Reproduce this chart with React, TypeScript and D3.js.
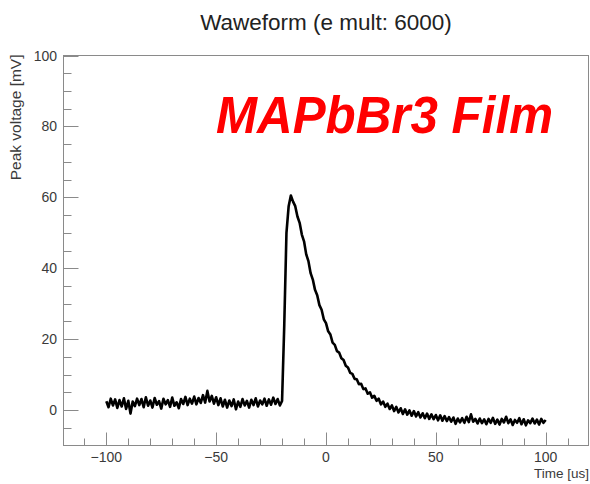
import React from "react";
import * as d3 from "d3";

// Waveform samples: one every 1 us starting at -100 us (mV)
const TIME_START = -100;
const TIME_STEP = 1;
const VOLTAGES: number[] = [
  // -100 .. -91
  2.5, 0.8, 3.2, 1.3, 3.0, 0.6, 2.8, 1.0, 3.3, 0.3,
  // -90 .. -81
  2.6, -1.0, 2.4, 1.1, 3.2, 1.4, 3.1, 0.8, 3.6, 1.2,
  // -80 .. -71
  2.7, 0.7, 3.4, 1.5, 2.5, 0.4, 3.2, 1.6, 2.8, 0.9,
  // -70 .. -61
  3.5, 1.2, 2.2, 0.5, 3.1, 1.7, 3.7, 1.4, 3.2, 1.8,
  // -60 .. -51
  3.8, 1.6, 3.4, 2.0, 4.2, 2.1, 5.4, 2.4, 4.0, 1.8,
  // -50 .. -41
  3.6, 1.4, 3.3, 1.0, 2.9, 0.7, 2.7, 1.1, 3.0, 0.2,
  // -40 .. -31
  2.4, 0.9, 3.1, 1.3, 2.6, 0.7, 2.9, 1.4, 3.3, 1.0,
  // -30 .. -21
  2.7, 1.6, 3.2, 1.2, 3.0, 1.5, 3.5, 1.7, 3.1, 1.3,
  // -20 .. -11
  2.6, 24.0, 50.0, 57.5, 60.5, 58.8, 57.5, 54.6, 52.8, 49.5,
  // -10 .. -1
  47.6, 43.9, 42.0, 38.6, 36.8, 33.9, 32.4, 29.6, 28.3, 25.6,
  // 0 .. 9
  24.5, 22.2, 21.3, 19.0, 18.4, 16.6, 16.2, 14.6, 14.1, 12.5,
  // 10 .. 19
  12.0, 10.5, 10.2, 8.8, 8.7, 7.3, 7.4, 5.9, 6.1, 4.6,
  // 20 .. 29
  5.0, 3.5, 4.0, 2.6, 3.2, 1.6, 2.4, 0.9, 1.8, 0.3,
  // 30 .. 39
  1.3, -0.3, 0.9, -0.7, 0.5, -1.1, 0.2, -1.3, -0.1, -1.6,
  // 40 .. 49
  -0.3, -1.8, -0.6, -2.1, -0.9, -2.3, -1.0, -2.5, -1.2, -2.6,
  // 50 .. 59
  -1.4, -2.9, -1.5, -3.0, -1.7, -3.1, -2.0, -3.3, -2.1, -3.9,
  // 60 .. 69
  -2.4, -3.5, -2.3, -3.6, -1.9, -3.4, -1.2, -3.3, -2.5, -3.8,
  // 70 .. 79
  -2.4, -3.7, -2.6, -4.0, -2.5, -3.6, -2.2, -3.9, -2.7, -4.1,
  // 80 .. 89
  -2.5, -3.5, -1.9, -3.7, -2.6, -4.2, -2.8, -3.6, -2.3, -4.0,
  // 90 .. 100
  -2.6, -4.3, -2.9, -3.7, -2.4, -3.8, -2.7, -4.1, -2.5, -3.6, -2.8,
];

const X_TICKS = [-100, -50, 0, 50, 100];
const X_TICK_LABELS = ["\u2212100", "\u221250", "0", "50", "100"];
const X_MINOR = [-110, -90, -80, -70, -60, -40, -30, -20, -10, 10, 20, 30, 40, 60, 70, 80, 90, 110];
const Y_TICKS = [0, 20, 40, 60, 80, 100];
const Y_TICK_LABELS = ["0", "20", "40", "60", "80", "100"];
const Y_MINOR = [-5, 5, 10, 15, 25, 30, 35, 45, 50, 55, 65, 70, 75, 85, 90, 95];

const TITLE = "Waweform (e mult: 6000)";
const X_TITLE = "Time [us]";
const Y_TITLE = "Peak voltage [mV]";
const ANNOTATION = "MAPbBr3 Film";

const X_DOMAIN: [number, number] = [-119.5, 119.5];
const Y_DOMAIN: [number, number] = [-10, 100];

export default function App() {
  const W = 590;
  const H = 484;
  const left = 63.5;
  const right = 588.5;
  const top = 55.5;
  const bottom = 445.5;

  const x = d3.scaleLinear().domain(X_DOMAIN).range([left, right]);
  const y = d3.scaleLinear().domain(Y_DOMAIN).range([bottom, top]);

  const pts: [number, number][] = VOLTAGES.map((v, i) => [TIME_START + i * TIME_STEP, v]);
  const line = d3
    .line<[number, number]>()
    .x((d) => x(d[0]))
    .y((d) => y(d[1]));

  const axisColor = "#8a8a8a";
  const textColor = "#3a3a3a";
  const font = "'Liberation Sans', Arial, Helvetica, sans-serif";

  return (
    <svg
      width={W}
      height={H}
      viewBox={`0 0 ${W} ${H}`}
      style={{ position: "absolute", left: 0, top: 0, background: "#fff" }}
      fontFamily={font}
    >
      <rect x={0} y={0} width={W} height={H} fill="#fff" />
      {/* frame */}
      <rect x={left} y={top} width={right - left} height={bottom - top} fill="none" stroke={axisColor} strokeWidth={1} />

      {/* x ticks */}
      {X_TICKS.map((t) => (
        <line key={"xM" + t} x1={Math.round(x(t)) + 0.5} x2={Math.round(x(t)) + 0.5} y1={bottom} y2={bottom - 13} stroke={axisColor} />
      ))}
      {X_MINOR.map((t) => (
        <line key={"xm" + t} x1={Math.round(x(t)) + 0.5} x2={Math.round(x(t)) + 0.5} y1={bottom} y2={bottom - 7} stroke={axisColor} />
      ))}
      {X_TICKS.map((t, i) => (
        <text key={"xl" + t} x={x(t)} y={462} textAnchor="middle" fontSize={14} fill={textColor}>
          {X_TICK_LABELS[i]}
        </text>
      ))}

      {/* y ticks */}
      {Y_TICKS.map((t) => (
        <line key={"yM" + t} x1={left} x2={left + 15} y1={Math.round(y(t)) + 0.5} y2={Math.round(y(t)) + 0.5} stroke={axisColor} />
      ))}
      {Y_MINOR.map((t) => (
        <line key={"ym" + t} x1={left} x2={left + 8} y1={Math.round(y(t)) + 0.5} y2={Math.round(y(t)) + 0.5} stroke={axisColor} />
      ))}
      {Y_TICKS.map((t, i) => (
        <text key={"yl" + t} x={57} y={y(t) + 5} textAnchor="end" fontSize={14} fill={textColor}>
          {Y_TICK_LABELS[i]}
        </text>
      ))}

      {/* axis titles */}
      <text x={589} y={478} textAnchor="end" fontSize={13.5} fill={textColor}>
        {X_TITLE}
      </text>
      <text transform={`translate(20.5,${top - 1}) rotate(-90)`} textAnchor="end" fontSize={15.5} fill={textColor}>
        {Y_TITLE}
      </text>

      {/* title */}
      <text x={326} y={30} textAnchor="middle" fontSize={22.5} fill="#222">
        {TITLE}
      </text>

      {/* waveform */}
      <path d={line(pts) || ""} fill="none" stroke="#000" strokeWidth={2.6} strokeLinejoin="round" />

      {/* annotation */}
      <text
        x={216}
        y={133}
        fontSize={51}
        fontWeight="bold"
        fontStyle="italic"
        fill="#ff0000"
        textLength={337}
        lengthAdjust="spacingAndGlyphs"
      >
        {ANNOTATION}
      </text>
    </svg>
  );
}
